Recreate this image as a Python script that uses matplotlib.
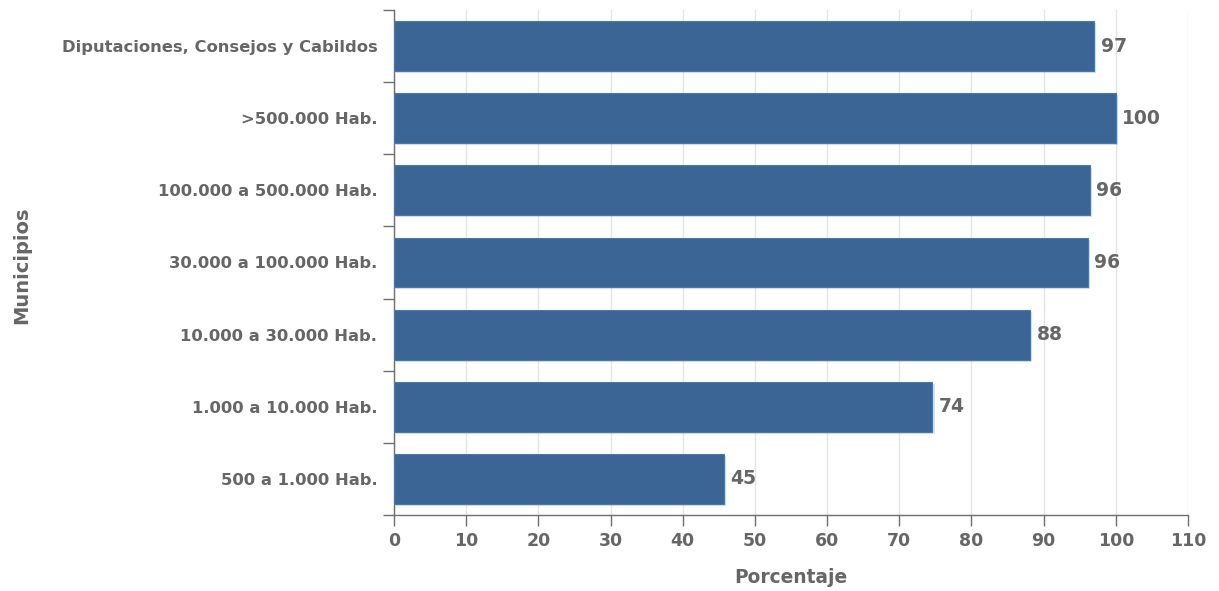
import numpy as np
import matplotlib.pyplot as plt
import matplotlib.patheffects as pe
from matplotlib.ticker import FixedLocator, MultipleLocator

categories = [
    "Diputaciones, Consejos y Cabildos",
    ">500.000 Hab.",
    "100.000 a 500.000 Hab.",
    "30.000 a 100.000 Hab.",
    "10.000 a 30.000 Hab.",
    "1.000 a 10.000 Hab.",
    "500 a 1.000 Hab.",
]
values = [97.0, 100.0, 96.4, 96.1, 88.1, 74.6, 45.7]

BAR = "#3a6595"
TXT = "#666666"
AXC = "#6e6e6e"

fig = plt.figure(figsize=(12.19, 5.91), dpi=100)
ax = fig.add_axes([394 / 1219, 1 - 515 / 591, (1188 - 394) / 1219, (515 - 10) / 591])

y = np.arange(len(categories))
bars = ax.barh(y, values, height=0.69, color=BAR, edgecolor="#4d78a6", linewidth=0.8, zorder=3)
for b in bars:
    b.set_path_effects([pe.SimplePatchShadow(offset=(1.5, -1.5), shadow_rgbFace="#000000", alpha=0.12), pe.Normal()])

# labels show the truncated value
for yi, v in zip(y, values):
    ax.text(v + 0.9, yi, f"{int(v)}", va="center", ha="left", fontsize=13.5,
            fontweight="bold", color=TXT, zorder=4)

ax.set_ylim(len(categories) - 0.5, -0.5)
ax.set_xlim(0, 110)
ax.xaxis.set_major_locator(MultipleLocator(10))
ax.set_yticks(y)
ax.set_yticklabels(categories, fontsize=11.8, fontweight="bold", color=TXT)
ax.yaxis.set_minor_locator(FixedLocator(np.arange(-0.5, len(categories), 1.0)))
ax.tick_params(axis="y", which="major", length=0, pad=12)
ax.tick_params(axis="y", which="minor", length=8, width=1, color=AXC)
ax.tick_params(axis="x", length=8, width=1, color=AXC, labelsize=12.5, labelcolor=TXT, pad=4)
for lab in ax.get_xticklabels():
    lab.set_fontweight("bold")

ax.grid(True, axis="x", color="#e4e4e4", linewidth=1, zorder=0)
ax.set_axisbelow(True)
for s in ["top", "right"]:
    ax.spines[s].set_visible(False)
for s in ["left", "bottom"]:
    ax.spines[s].set_color(AXC)
    ax.spines[s].set_linewidth(1)

ax.set_xlabel("Porcentaje", fontsize=13.4, fontweight="bold", color=TXT, labelpad=13)
fig.text(22 / 1219, 1 - 265 / 591, "Municipios", rotation=90, ha="center", va="center",
         fontsize=14, fontweight="bold", color=TXT)

fig.savefig("out.png", dpi=100)
